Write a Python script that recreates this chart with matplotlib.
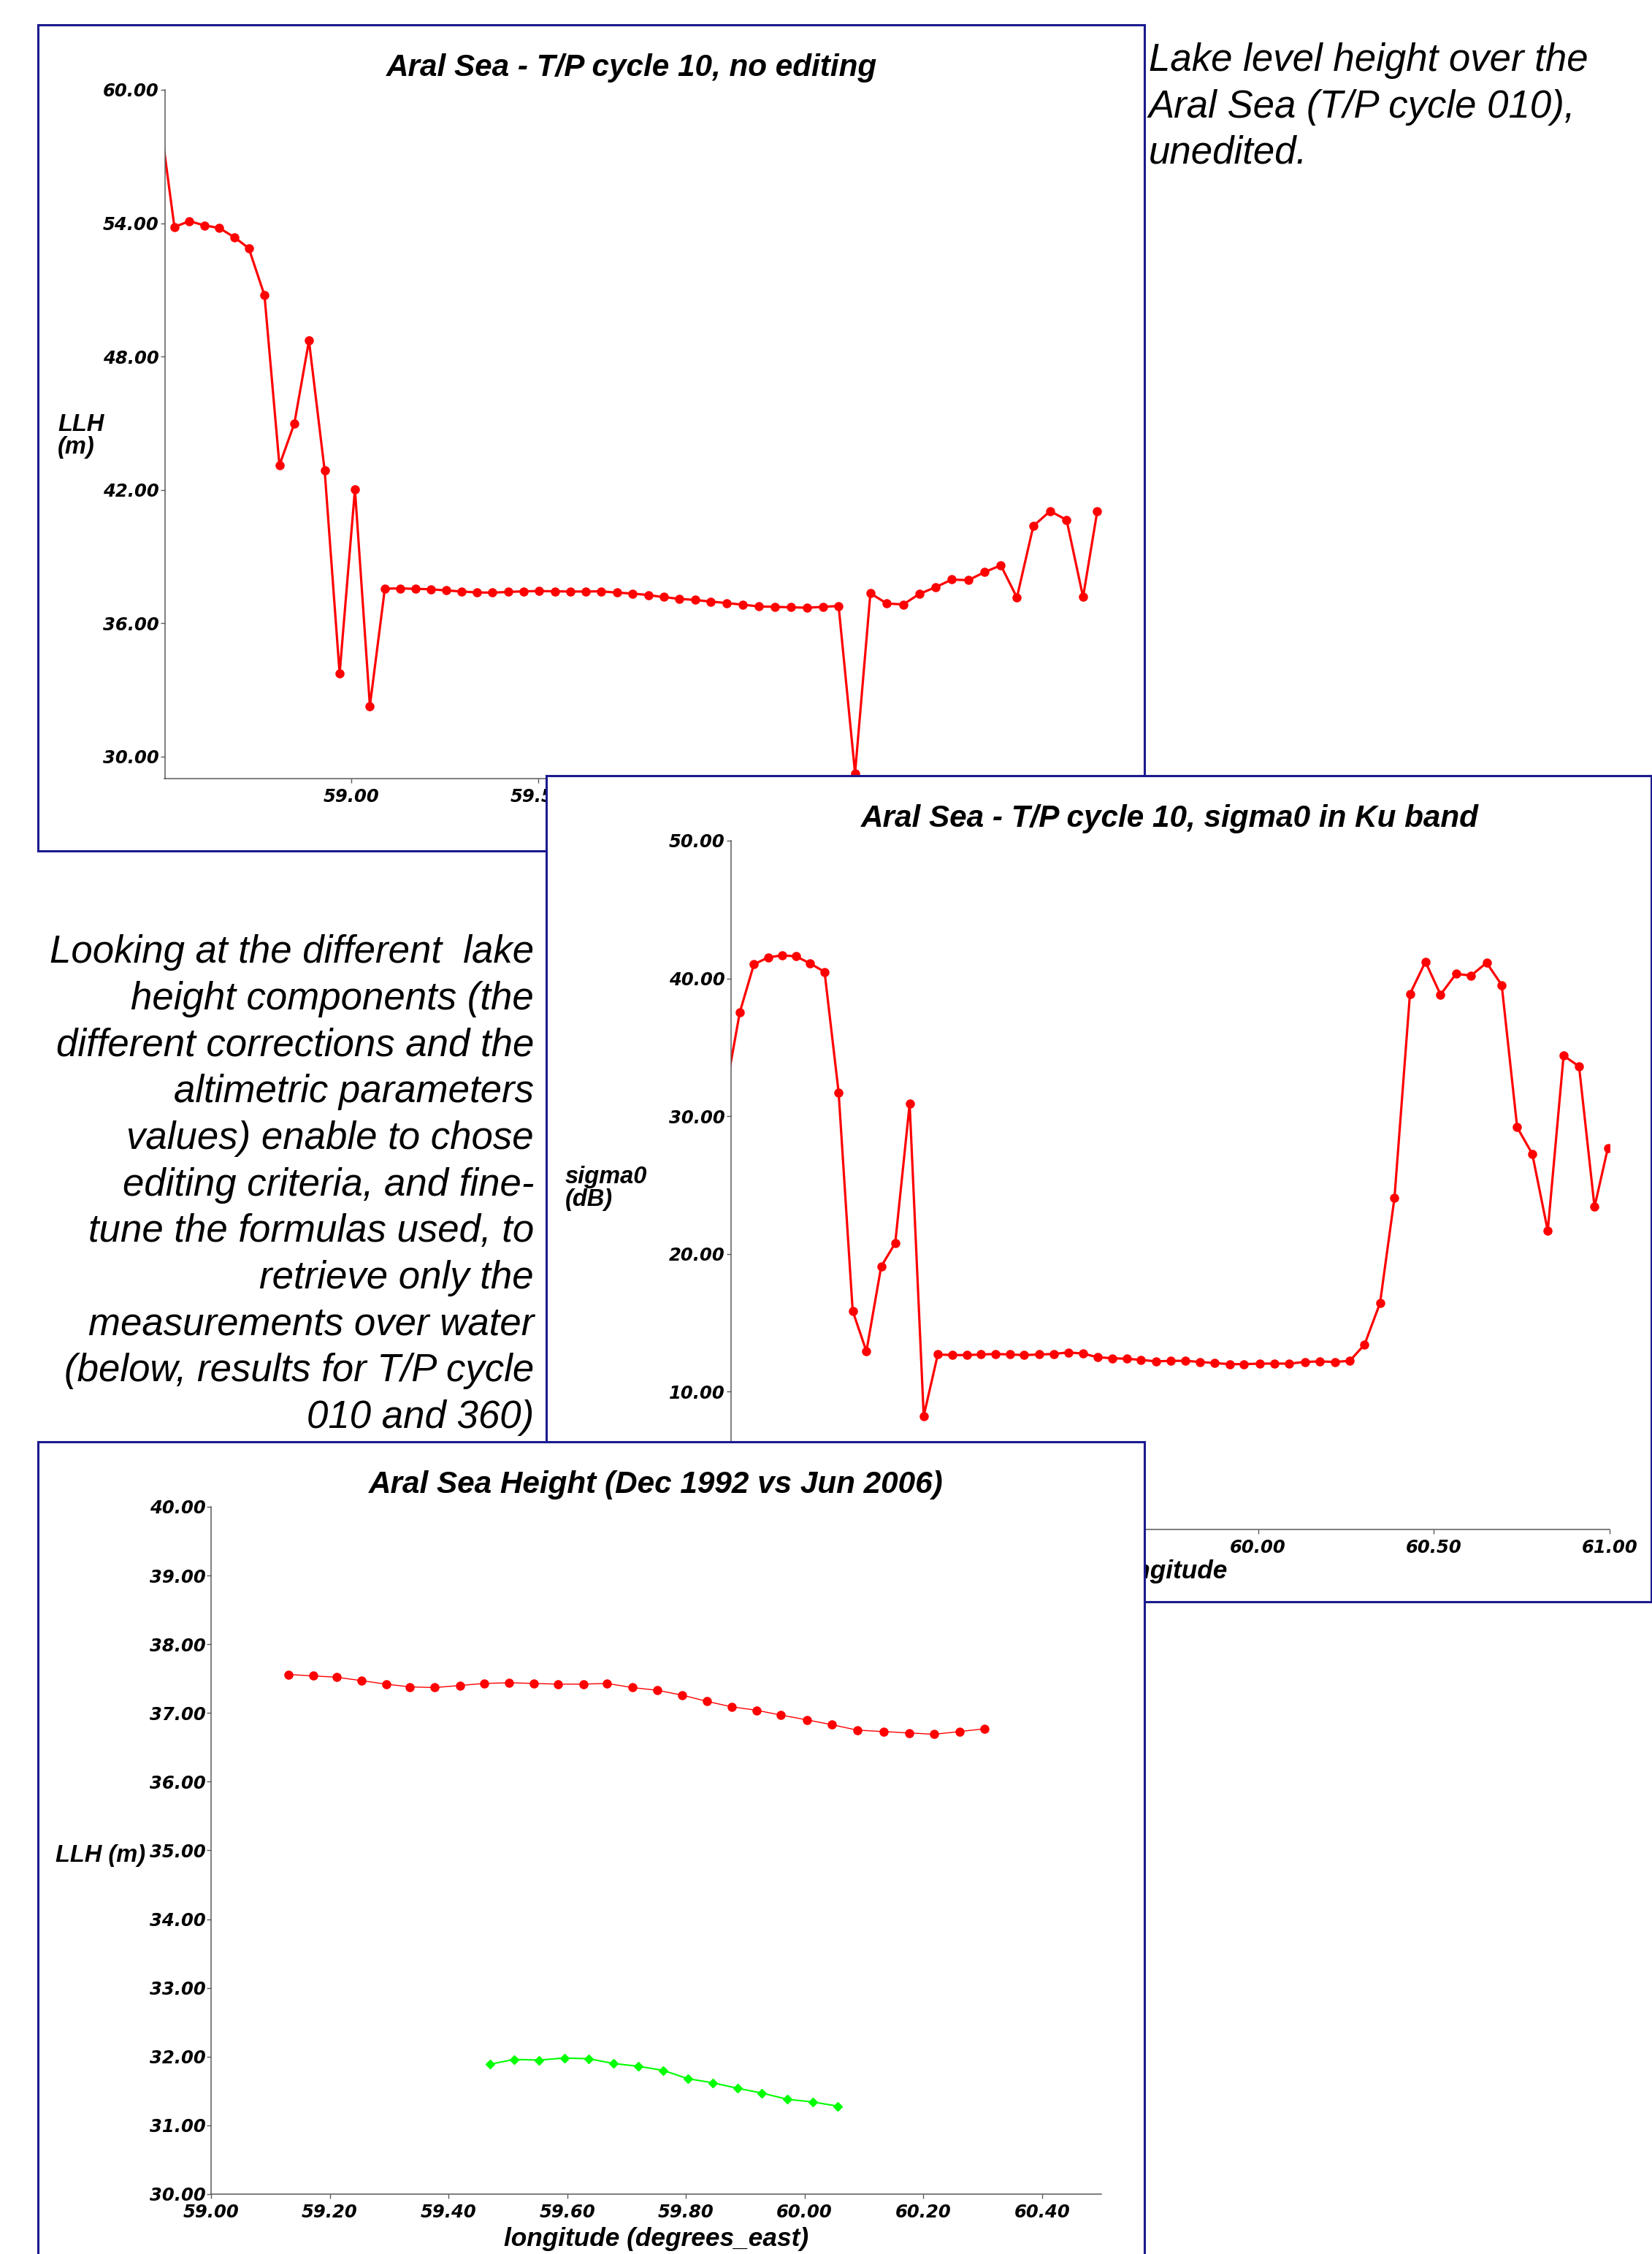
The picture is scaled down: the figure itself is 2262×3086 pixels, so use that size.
import matplotlib
matplotlib.use('Agg')
import matplotlib.pyplot as plt
from matplotlib.font_manager import FontProperties
from matplotlib.ticker import FormatStrFormatter

# ---------------- data ----------------
# T/P cycle 10 pass over the Aral Sea (first point lies just west of the window)
lon_c10 = [58.485, 58.526, 58.566, 58.606, 58.646, 58.686, 58.725, 58.767, 58.807, 58.847,
           58.886, 58.928, 58.968, 59.009, 59.049, 59.089, 59.131, 59.172, 59.212, 59.254,
           59.295, 59.335, 59.377, 59.419, 59.460, 59.502, 59.544, 59.585, 59.627, 59.667,
           59.710, 59.752, 59.794, 59.835, 59.877, 59.919, 59.960, 60.004, 60.046, 60.089,
           60.133, 60.176, 60.218, 60.261, 60.303, 60.347, 60.388, 60.432, 60.476, 60.519,
           60.563, 60.606, 60.650, 60.693, 60.737, 60.780, 60.824, 60.869, 60.913, 60.957,
           60.995]
llh_c10 = [58.99, 53.83, 54.09, 53.90, 53.78, 53.37, 52.87, 50.75, 43.10, 44.99,
           48.71, 42.86, 33.73, 42.02, 32.27, 37.55, 37.56, 37.54, 37.52, 37.47,
           37.42, 37.38, 37.37, 37.40, 37.43, 37.44, 37.43, 37.42, 37.42, 37.43,
           37.37, 37.33, 37.26, 37.17, 37.09, 37.04, 36.97, 36.90, 36.83, 36.75,
           36.73, 36.71, 36.69, 36.73, 36.77, 29.24, 37.34, 36.88, 36.84, 37.31,
           37.62, 37.96, 37.93, 38.29, 38.60, 37.15, 40.37, 41.04, 40.64, 37.17,
           41.04]
sigma0_c10 = [31.70, 37.55, 41.02, 41.52, 41.68, 41.60, 41.10, 40.48, 31.73, 15.86,
              12.93, 19.09, 20.79, 30.89, 8.23, 12.70, 12.66, 12.66, 12.70, 12.74,
              12.70, 12.66, 12.70, 12.74, 12.85, 12.77, 12.50, 12.43, 12.39, 12.31,
              12.20, 12.24, 12.24, 12.16, 12.08, 12.00, 12.00, 12.04, 12.04, 12.04,
              12.16, 12.20, 12.16, 12.24, 13.43, 16.44, 24.07, 38.86, 41.21, 38.82,
              40.33, 40.21, 41.14, 39.52, 29.19, 27.26, 21.68, 34.39, 33.62, 23.41,
              27.70]
# points of cycle 10 kept after editing (Dec 1992)
kept = slice(16, 45)

# T/P cycle 360 (Jun 2006), edited
lon_c360 = [59.470, 59.511, 59.553, 59.595, 59.636, 59.678, 59.720, 59.762, 59.803, 59.845,
            59.887, 59.928, 59.971, 60.014, 60.056]
llh_c360 = [31.89, 31.96, 31.95, 31.98, 31.97, 31.90, 31.86, 31.80, 31.68, 31.62,
            31.54, 31.47, 31.38, 31.34, 31.28]

side_lines = ["Lake level height over the",
              "Aral Sea (T/P cycle 010),",
              "unedited."]
intro_lines = ["Looking at the different  lake",
               "height components (the",
               "different corrections and the",
               "altimetric parameters",
               "values) enable to chose",
               "editing criteria, and fine-",
               "tune the formulas used, to",
               "retrieve only the",
               "measurements over water",
               "(below, results for T/P cycle",
               "010 and 360)"]

# ---------------- layout helpers (pixel coords, origin top-left) ----------------
W, H = 2262, 3086
NAVY = '#1b1b8f'
AXCOL = '#5a5a5a'


def box(x0, y0, x1, y1):
    return [x0 / W, 1 - y1 / H, (x1 - x0) / W, (y1 - y0) / H]


def fpos(x, y):
    return x / W, 1 - y / H


plt.rcParams['font.family'] = 'DejaVu Sans'
plt.rcParams['font.weight'] = 'bold'
plt.rcParams['font.style'] = 'oblique'

title_font = FontProperties(family='Liberation Sans', weight='bold', style='italic', size=30.4)
label_font = FontProperties(family='Liberation Sans', weight='bold', style='italic', size=23.5)
xlabel_font = FontProperties(family='Liberation Sans', weight='bold', style='italic', size=25.4)
body_font = FontProperties(family='Liberation Sans', weight='normal', style='italic', size=38)

fig = plt.figure(figsize=(W / 100, H / 100), dpi=100)
fig.patch.set_facecolor('white')


def frame(rect, z):
    fr = fig.add_axes(rect, zorder=z)
    fr.set_xticks([])
    fr.set_yticks([])
    fr.set_facecolor('white')
    for s in fr.spines.values():
        s.set_color(NAVY)
        s.set_linewidth(2.2)
    return fr


def data_axes(rect, z):
    ax = fig.add_axes(rect, zorder=z)
    ax.set_facecolor('none')
    ax.spines[['top', 'right']].set_visible(False)
    for s in ('left', 'bottom'):
        ax.spines[s].set_color(AXCOL)
        ax.spines[s].set_linewidth(1.1)
    ax.tick_params(direction='out', length=4.5, width=1.0, color=AXCOL,
                   labelcolor='black', labelsize=17.5)
    ax.tick_params(axis='y', pad=1)
    ax.tick_params(axis='x', pad=5)
    ax.xaxis.set_major_formatter(FormatStrFormatter('%.2f'))
    ax.yaxis.set_major_formatter(FormatStrFormatter('%.2f'))
    return ax


# ---------------- panel 1 : unedited heights ----------------
fr1 = frame(box(52, 34, 1567, 1165), 1)
for i, line in enumerate(side_lines):
    fr1.text(*fpos(1573, 97 + i * 63.5), line, transform=fig.transFigure,
             fontproperties=body_font, ha='left', va='baseline')
for i, line in enumerate(intro_lines):
    fr1.text(*fpos(731, 1318 + i * 63.7), line, transform=fig.transFigure,
             fontproperties=body_font, ha='right', va='baseline')

ax1 = data_axes(box(225.5, 123, 1505, 1066), 2)
ax1.plot(lon_c10, llh_c10, '-', color='#ff0000', lw=2.3)
ax1.plot(lon_c10[1:], llh_c10[1:], 'o', color='#ff0000', ms=8, clip_on=False)
ax1.set_xlim(58.5, 61.0)
ax1.set_ylim(29.0, 60.0)
ax1.set_xticks([59.0, 59.5, 60.0, 60.5, 61.0])
ax1.set_yticks([30, 36, 42, 48, 54, 60])
ax1.set_title('Aral Sea - T/P cycle 10, no editing', fontproperties=title_font, pad=13.5)
ax1.text(*fpos(79, 566), 'LLH\n(m)', transform=fig.transFigure, fontproperties=label_font,
         ha='left', va='top', linespacing=1.0)
ax1.text(*fpos(865, 1124), 'longitude', transform=fig.transFigure, fontproperties=xlabel_font,
         ha='center', va='center')

# ---------------- panel 2 : sigma0 ----------------
fr2 = frame(box(748, 1062, 2261, 2193), 3)
ax2 = data_axes(box(1000.5, 1151, 2204, 2094), 4)
ax2.plot(lon_c10, sigma0_c10, '-', color='#ff0000', lw=2.3)
ax2.plot(lon_c10, sigma0_c10, 'o', color='#ff0000', ms=8)
ax2.set_xlim(58.5, 61.0)
ax2.set_ylim(0, 50)
ax2.set_xticks([59.0, 59.5, 60.0, 60.5, 61.0])
ax2.set_yticks([0, 10, 20, 30, 40, 50])
ax2.set_title('Aral Sea - T/P cycle 10, sigma0 in Ku band', fontproperties=title_font, pad=13.5)
ax2.text(*fpos(774, 1596), 'sigma0\n(dB)', transform=fig.transFigure, fontproperties=label_font,
         ha='left', va='top', linespacing=1.0)
ax2.text(*fpos(1602, 2152), 'longitude', transform=fig.transFigure, fontproperties=xlabel_font,
         ha='center', va='center')

# ---------------- panel 3 : edited heights, two dates ----------------
fr3 = frame(box(52, 1974, 1567, 3130), 5)
ax3 = data_axes(box(289, 2063, 1508, 3004), 6)
ax3.plot(lon_c10[kept], llh_c10[kept], '-o', color='#ff0000', lw=1.0, ms=8)
ax3.plot(lon_c360, llh_c360, '-D', color='#00ff00', lw=1.5, ms=6)
ax3.set_xlim(59.0, 60.5)
ax3.set_ylim(30, 40)
ax3.set_xticks([59.0, 59.2, 59.4, 59.6, 59.8, 60.0, 60.2, 60.4])
ax3.set_yticks(range(30, 41))
ax3.set_title('Aral Sea Height (Dec 1992 vs Jun 2006)', fontproperties=title_font, pad=13.5)
ax3.text(*fpos(199, 2540), 'LLH (m)', transform=fig.transFigure, fontproperties=label_font,
         ha='right', va='center')
ax3.text(*fpos(899, 3065), 'longitude (degrees_east)', transform=fig.transFigure,
         fontproperties=xlabel_font, ha='center', va='center')

fig.savefig('out.png', dpi=100)
